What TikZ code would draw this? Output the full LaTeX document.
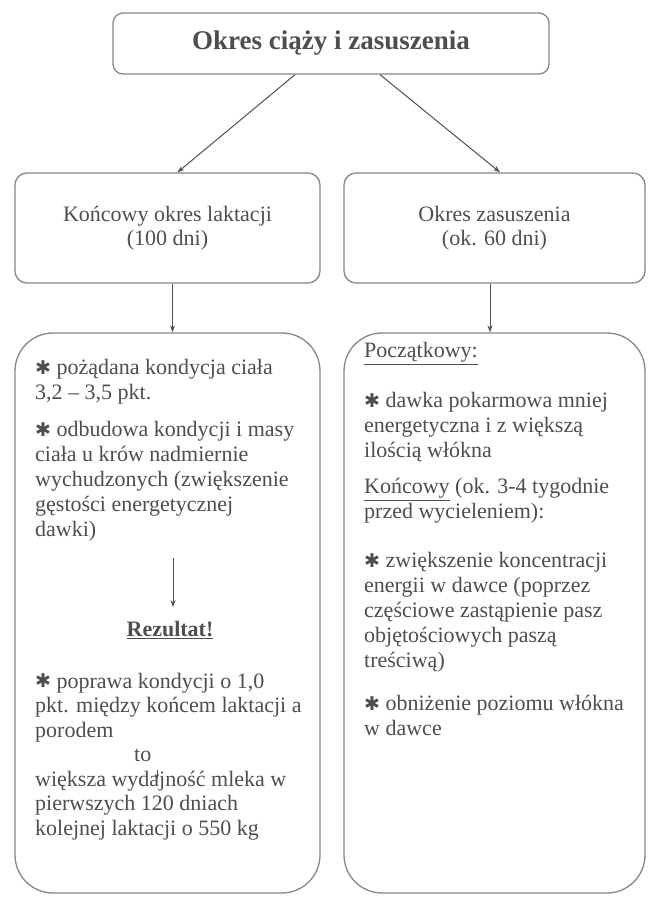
\documentclass[tikz,border=0pt]{standalone}
\usepackage{fontspec}
\setmainfont{Liberation Serif}
\newfontfamily\symfont{DejaVu Sans}
\usetikzlibrary{arrows.meta,calc}
\definecolor{boxline}{RGB}{135,135,135}
\definecolor{txt}{RGB}{78,78,78}
\definecolor{arr}{RGB}{80,80,80}
\newcommand{\bul}{\raisebox{0.5pt}{\symfont\fontsize{19}{19}\selectfont ✱}}
\begin{document}
\begin{tikzpicture}[x=1pt,y=-1pt,
  every node/.style={text=txt},
  topbox/.style={draw=boxline,line width=1.3pt,fill=white,rounded corners=10pt,inner sep=0pt},
  midbox/.style={draw=boxline,line width=1.3pt,fill=white,rounded corners=12pt,inner sep=0pt,align=center,font={\fontsize{22}{24.5}\selectfont}},
  bigbox/.style={draw=boxline,line width=1.3pt,fill=white,rounded corners=38pt,inner sep=0pt},
  txtblock/.style={anchor=north west,inner sep=0pt,align=left},
  arrow/.style={draw=arr,line width=1pt,-{Stealth[length=7pt,width=5pt]}}
]
\useasboundingbox (0,0) rectangle (652,900);

% boxes
\node[topbox,minimum width=436pt,minimum height=61pt] (top) at (331,43.5)
  {\fontsize{27}{30}\selectfont\bfseries Okres ciąży i zasuszenia};
\node[midbox,minimum width=305pt,minimum height=110pt] (ml) at (167.5,228)
  {Końcowy okres laktacji\\(100 dni)};
\node[midbox,minimum width=301pt,minimum height=110pt] (mr) at (494.5,228)
  {Okres zasuszenia\\(ok. 60 dni)};
\node[bigbox,minimum width=305pt,minimum height=560pt] (bl) at (167.5,613) {};
\node[bigbox,minimum width=301pt,minimum height=560pt] (br) at (494.5,613) {};

% connectors
\draw[arrow] ($(top.south)+(-36,0)$) -- ($(ml.north)+(10,0)$);
\draw[arrow] ($(top.south)+(49,0)$) -- ($(mr.north)+(5.5,0)$);
\draw[arrow] ($(ml.south)+(5,0)$) -- ($(bl.north)+(5,0)$);
\draw[arrow] ($(mr.south)+(-4.5,0)$) -- ($(br.north)+(-4.5,0)$);

% left column text
\node[txtblock,font={\fontsize{22}{25}\selectfont}] (lb1) at (35,357)
  {\strut\bul{} pożądana kondycja ciała\\
   3,2 – 3,5 pkt.\\[12pt]
   \bul{} odbudowa kondycji i masy\\
   ciała u krów nadmiernie\\
   wychudzonych (zwiększenie\\
   gęstości energetycznej\\
   dawki)};
\coordinate (ia) at (173,558);
\coordinate (ib) at (173,607);
\draw[arrow] (ia) -- (ib);
\node[anchor=base,inner sep=0pt,font={\fontsize{22}{25}\selectfont\bfseries}] (res) at (170,636)
  {\underline{Rezultat!}};
\node[txtblock,font={\fontsize{22}{24.5}\selectfont}] (lb2) at (35,671)
  {\strut\bul{} poprawa kondycji o 1,0\\
   pkt. między końcem laktacji a\\
   porodem\\
   \hspace*{99pt}to\\
   większa wydajność mleka w\\
   pierwszych 120 dniach\\
   kolejnej laktacji o 550 kg};
\coordinate (ta) at (157,770);
\coordinate (tb) at (157,779);
\draw[draw=arr,line width=0.6pt,-{Stealth[length=5pt,width=4pt]}] (ta) -- (tb);

% right column text
\node[txtblock,font={\fontsize{22}{25}\selectfont}] (rb) at (364,340)
  {\strut\underline{Początkowy:}\\[25pt]
   \bul{} dawka pokarmowa mniej\\
   energetyczna i z większą\\
   ilością włókna\\[11pt]
   \underline{Końcowy} (ok. 3-4 tygodnie\\
   przed wycieleniem):\\[24pt]
   \bul{} zwiększenie koncentracji\\
   energii w dawce (poprzez\\
   częściowe zastąpienie pasz\\
   objętościowych paszą\\
   treściwą)\\[18pt]
   \bul{} obniżenie poziomu włókna\\
   w dawce};
\end{tikzpicture}
\end{document}
